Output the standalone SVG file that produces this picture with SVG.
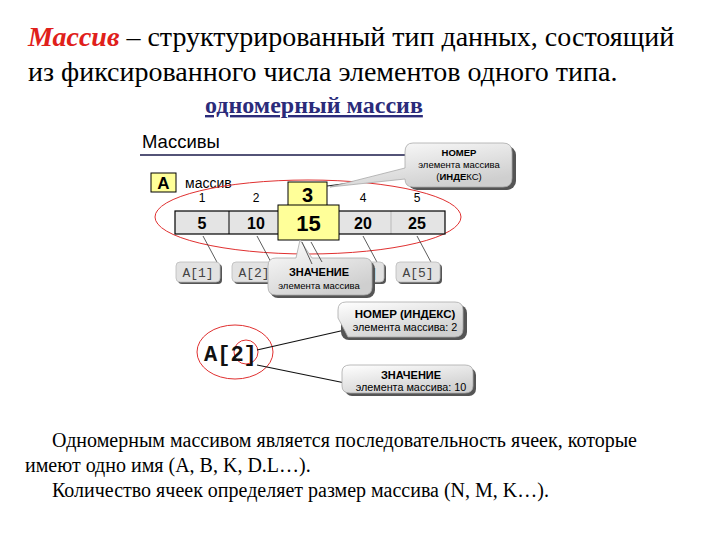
<svg xmlns="http://www.w3.org/2000/svg" width="720" height="540" viewBox="0 0 720 540">
<defs>
<linearGradient id="cg" x1="0" y1="0" x2="0.6" y2="1">
<stop offset="0" stop-color="#ffffff"/><stop offset="1" stop-color="#cfcfcf"/>
</linearGradient>
<style>
.t{font-family:"Liberation Serif","Times New Roman",serif;fill:#000}
.s{font-family:"Liberation Sans",Arial,sans-serif;fill:#000}
.m{font-family:"Liberation Mono","Courier New",monospace;fill:#444}
.cell{fill:#e4e4e4;stroke:#000;stroke-width:1.2}
.yel{fill:#ffff99;stroke:#000;stroke-width:1}
.call{fill:url(#cg);stroke:#aaa;stroke-width:0.8}
.sh{fill:#555}
.lbl{fill:#e2e2e2;stroke:#bbb;stroke-width:0.8}
.ln{stroke:#333;stroke-width:0.8;fill:none}
.red{fill:none;stroke:#e03030;stroke-width:1}
</style>
</defs>
<rect width="720" height="540" fill="#fff"/>
<g id="title">
<text class="t" x="28" y="46" font-size="28"><tspan fill="#e0201b" font-style="italic" font-weight="bold">Массив</tspan> – структурированный тип данных, состоящий</text>
<text class="t" x="28" y="81" font-size="28">из фиксированного числа элементов одного типа.</text>
<text class="t" x="205" y="113" font-size="24" font-weight="bold" style="fill:#2b2b7a" text-decoration="underline">одномерный массив</text>
</g>
<g id="header">
<text class="s" x="142" y="148" font-size="18.5">Массивы</text>
<line x1="140" y1="155" x2="410" y2="155" stroke="#1a1a4a" stroke-width="1.5"/>
</g>
<g id="array-name">
<rect class="yel" x="151" y="173" width="25" height="19"/>
<text class="s" x="163.5" y="189" font-size="17" font-weight="bold" text-anchor="middle">A</text>
<text class="s" x="185" y="188" font-size="14">массив</text>
</g>
<g id="connectors">
<ellipse class="red" cx="308" cy="217" rx="153" ry="37"/>
<line class="ln" x1="203" y1="236" x2="218" y2="264"/>
<line class="ln" x1="257" y1="236" x2="272" y2="264"/>
<line class="ln" x1="363" y1="236" x2="378" y2="264"/>
<line class="ln" x1="417" y1="236" x2="432" y2="264"/>
<ellipse class="red" cx="235" cy="352" rx="38" ry="27"/>
<circle class="red" cx="246" cy="352" r="12"/>
</g>
<g id="cells">
<rect class="cell" x="175" y="211" width="270" height="23"/>
<line x1="229" y1="211" x2="229" y2="234" stroke="#000" stroke-width="1"/>
<line x1="391" y1="211" x2="391" y2="234" stroke="#000" stroke-width="0.6" stroke-opacity="0.3"/>
<g class="s" font-size="16" font-weight="bold" text-anchor="middle">
<text x="202" y="229">5</text><text x="256" y="229">10</text><text x="363" y="229">20</text><text x="417" y="229">25</text>
</g>
<g class="s" font-size="12" text-anchor="middle">
<text x="202" y="202">1</text><text x="256" y="202">2</text><text x="363" y="202">4</text><text x="417" y="202">5</text>
</g>
<rect class="yel" x="288" y="182" width="39" height="24"/>
<text class="s" x="307.5" y="202" font-size="20" font-weight="bold" text-anchor="middle">3</text>
<rect class="yel" x="278" y="205" width="61" height="35"/>
<text class="s" x="308.5" y="231" font-size="22" font-weight="bold" text-anchor="middle">15</text>
</g>
<g id="index-callout">
<line x1="327" y1="186" x2="405" y2="176" stroke="#222" stroke-width="1.2"/>
<rect class="sh" x="408" y="146" width="108" height="44" rx="9"/>
<path class="call" d="M413 143 H503 Q512 143 512 152 V178 Q512 187 503 187 H413 Q405 187 405 179 L330 187 L405 168 V152 Q405 143 413 143 Z"/>
<text class="s" x="459" y="156" font-size="9.5" font-weight="bold" text-anchor="middle">НОМЕР</text>
<text class="s" x="459" y="168" font-size="9.5" text-anchor="middle">элемента массива</text>
<text class="s" x="459" y="180" font-size="9.5" text-anchor="middle">(<tspan font-weight="bold">ИНДЕ</tspan>КС)</text>
</g>
<g id="labels">
<rect class="sh" x="178" y="264" width="44" height="20" rx="4"/>
<rect class="lbl" x="176" y="262" width="44" height="20" rx="4"/>
<text class="m" x="198" y="277" font-size="13" text-anchor="middle">A[1]</text>
<rect class="sh" x="234" y="264" width="44" height="20" rx="4"/>
<rect class="lbl" x="232" y="262" width="44" height="20" rx="4"/>
<text class="m" x="254" y="277" font-size="13" text-anchor="middle">A[2]</text>
<rect class="sh" x="342" y="264" width="44" height="20" rx="4"/>
<rect class="lbl" x="340" y="262" width="44" height="20" rx="4"/>
<text class="m" x="362" y="277" font-size="13" text-anchor="middle">A[4]</text>
<rect class="sh" x="398" y="264" width="44" height="20" rx="4"/>
<rect class="lbl" x="396" y="262" width="44" height="20" rx="4"/>
<text class="m" x="418" y="277" font-size="13" text-anchor="middle">A[5]</text>
</g>
<g id="value-callout">
<rect class="sh" x="270" y="261" width="105" height="37" rx="8"/>
<path class="call" d="M276 258 H296 L300 240 L312 258 H364 Q372 258 372 266 V287 Q372 295 364 295 H276 Q268 295 268 287 V266 Q268 258 276 258 Z"/>
<line class="ln" x1="302" y1="242" x2="312" y2="264"/>
<line class="ln" x1="311" y1="242" x2="322" y2="262"/>
<text class="s" x="319" y="276" font-size="11" font-weight="bold" text-anchor="middle">ЗНАЧЕНИЕ</text>
<text class="s" x="319" y="289" font-size="9.5" text-anchor="middle">элемента массива</text>
</g>
<g id="a2">
<text class="m" x="204" y="361" font-size="22" font-weight="bold" style="fill:#111">A[2]</text>
</g>
<g id="index2-callout">
<line x1="257" y1="350" x2="345" y2="330" stroke="#111" stroke-width="1.2"/>
<rect class="sh" x="341" y="305" width="126" height="35" rx="8"/>
<path class="call" d="M346 302 H455 Q463 302 463 310 V329 Q463 337 455 337 H348 L345 331 L338 318 V310 Q338 302 346 302 Z"/>
<text class="s" x="405" y="318" font-size="11.5" font-weight="bold" text-anchor="middle">НОМЕР (ИНДЕКС)</text>
<text class="s" x="405" y="331" font-size="10.8" text-anchor="middle">элемента массива: 2</text>
</g>
<g id="value2-callout">
<line x1="257" y1="365" x2="350" y2="384" stroke="#111" stroke-width="1.2"/>
<rect class="sh" x="345" y="368" width="131" height="28" rx="7"/>
<path class="call" d="M350 365 H465 Q473 365 473 372 V386 Q473 393 465 393 H350 Q342 393 342 386 V372 Q342 365 350 365 Z"/>
<text class="s" x="411" y="379" font-size="11" font-weight="bold" text-anchor="middle">ЗНАЧЕНИЕ</text>
<text class="s" x="411" y="391" font-size="10.8" text-anchor="middle">элемента массива: 10</text>
</g>
<g id="description">
<text class="t" x="52" y="447" font-size="20">Одномерным массивом является последовательность ячеек, которые</text>
<text class="t" x="25" y="472" font-size="20">имеют одно имя (A, B, K, D.L…).</text>
<text class="t" x="52" y="497" font-size="20">Количество ячеек определяет размер массива (N, M, K…).</text>
</g>
</svg>
